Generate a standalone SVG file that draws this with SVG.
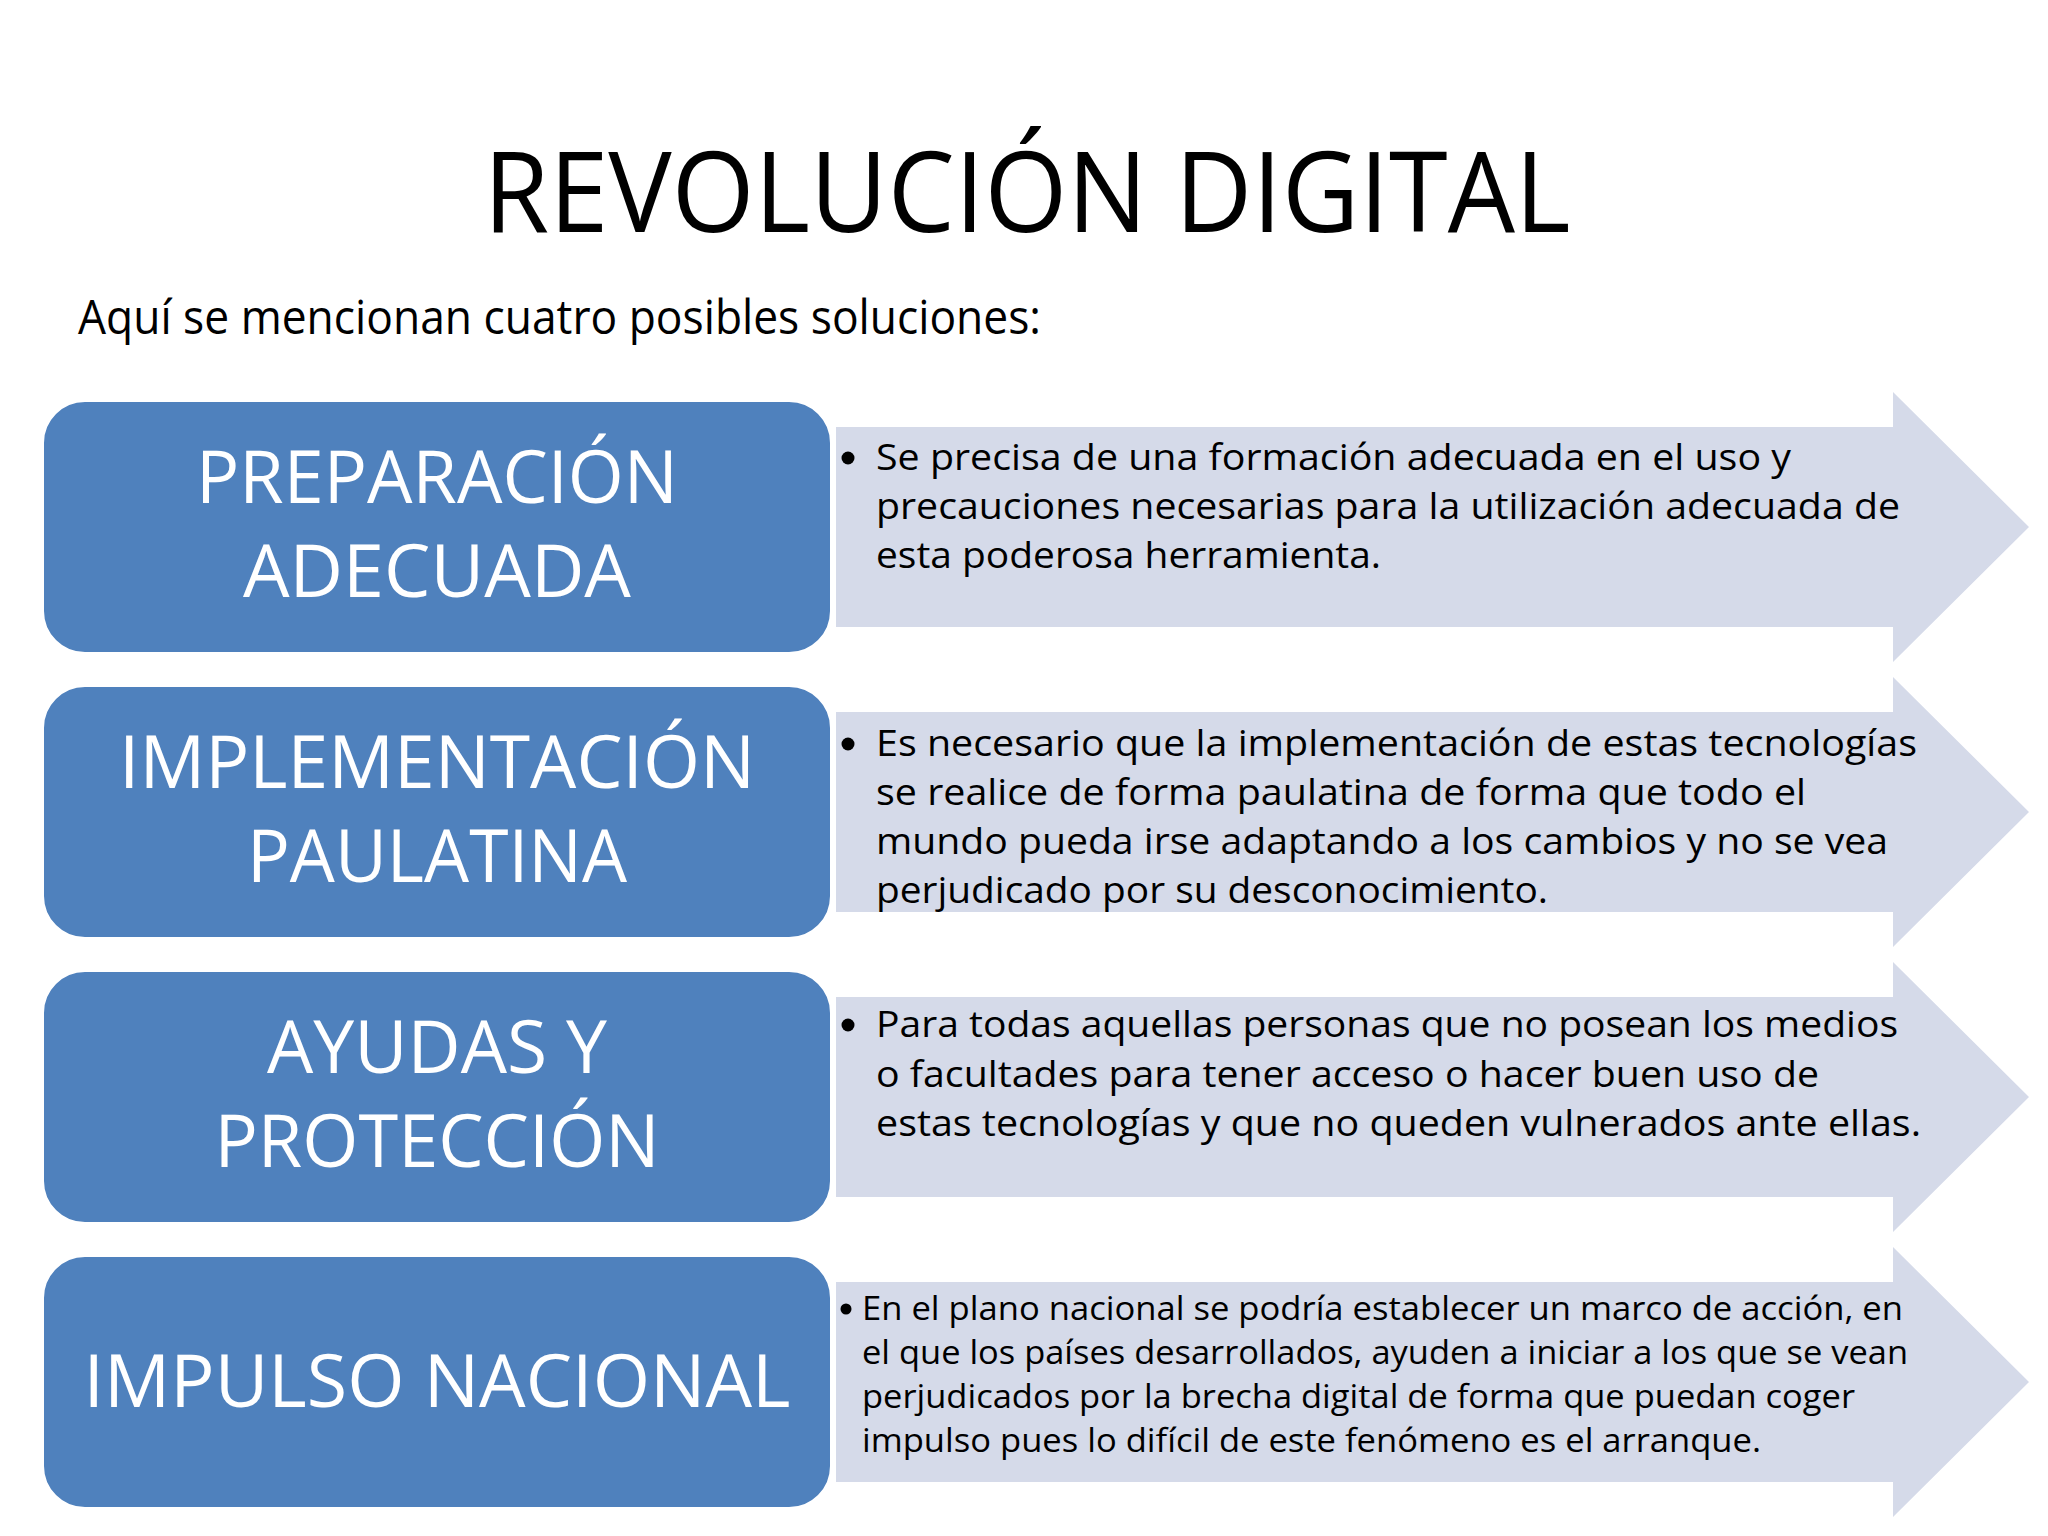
<svg xmlns="http://www.w3.org/2000/svg" width="2048" height="1536" viewBox="0 0 2048 1536">
<defs>
<style>
text{font-family:"Open Sans","Noto Sans","Liberation Sans",sans-serif;}
.title{font-size:112px;fill:#000;text-anchor:middle;}
.sub{font-size:48px;fill:#000;}
.box{fill:#4f81bd;stroke:#ffffff;stroke-width:2;}
.arrow{fill:#d5dae9;}
.bt{font-size:73px;fill:#fff;text-anchor:middle;}
.at{font-size:36px;fill:#000;}
.at4{font-size:32px;fill:#000;}
.dot{fill:#000;}
</style>
</defs>
<rect width="2048" height="1536" fill="#fff"/>
<text class="title" x="1027" y="232" textLength="1087" lengthAdjust="spacingAndGlyphs">REVOLUCIÓN DIGITAL</text>
<text class="sub" x="78" y="334" textLength="963" lengthAdjust="spacingAndGlyphs">Aquí se mencionan cuatro posibles soluciones:</text>

<g id="connectors">
<path id="arrow1" class="arrow" d="M836 427 H1893 V392 L2029 527 L1893 662 V627 H836 Z"/>
<path id="arrow2" class="arrow" d="M836 712 H1893 V677 L2029 812 L1893 947 V912 H836 Z"/>
<path id="arrow3" class="arrow" d="M836 997 H1893 V962 L2029 1097 L1893 1232 V1197 H836 Z"/>
<path id="arrow4" class="arrow" d="M836 1282 H1893 V1247 L2029 1382 L1893 1517 V1482 H836 Z"/>
</g>

<g id="node1">
<rect class="box" x="43" y="401" width="788" height="252" rx="42"/>
<text class="bt" x="437" y="503" textLength="482" lengthAdjust="spacingAndGlyphs">PREPARACIÓN</text>
<text class="bt" x="437" y="597" textLength="388" lengthAdjust="spacingAndGlyphs">ADECUADA</text>
</g>
<g id="text1">
<circle class="dot" cx="848" cy="458" r="6.5"/>
<text class="at" x="876" y="470" textLength="915" lengthAdjust="spacingAndGlyphs">Se precisa de una formación adecuada en el uso y</text>
<text class="at" x="876" y="519" textLength="1024" lengthAdjust="spacingAndGlyphs">precauciones necesarias para la utilización adecuada de</text>
<text class="at" x="876" y="568" textLength="505" lengthAdjust="spacingAndGlyphs">esta poderosa herramienta.</text>
</g>

<g id="node2">
<rect class="box" x="43" y="686" width="788" height="252" rx="42"/>
<text class="bt" x="437" y="788" textLength="636" lengthAdjust="spacingAndGlyphs">IMPLEMENTACIÓN</text>
<text class="bt" x="437" y="882" textLength="380" lengthAdjust="spacingAndGlyphs">PAULATINA</text>
</g>
<g id="text2">
<circle class="dot" cx="848" cy="744" r="6.5"/>
<text class="at" x="876" y="756" textLength="1041" lengthAdjust="spacingAndGlyphs">Es necesario que la implementación de estas tecnologías</text>
<text class="at" x="876" y="805" textLength="930" lengthAdjust="spacingAndGlyphs">se realice de forma paulatina de forma que todo el</text>
<text class="at" x="876" y="854" textLength="1012" lengthAdjust="spacingAndGlyphs">mundo pueda irse adaptando a los cambios y no se vea</text>
<text class="at" x="876" y="903" textLength="672" lengthAdjust="spacingAndGlyphs">perjudicado por su desconocimiento.</text>
</g>

<g id="node3">
<rect class="box" x="43" y="971" width="788" height="252" rx="42"/>
<text class="bt" x="437" y="1073" textLength="340" lengthAdjust="spacingAndGlyphs">AYUDAS Y</text>
<text class="bt" x="437" y="1167" textLength="445" lengthAdjust="spacingAndGlyphs">PROTECCIÓN</text>
</g>
<g id="text3">
<circle class="dot" cx="848" cy="1025" r="6.5"/>
<text class="at" x="876" y="1037" textLength="1022" lengthAdjust="spacingAndGlyphs">Para todas aquellas personas que no posean los medios</text>
<text class="at" x="876" y="1087" textLength="943" lengthAdjust="spacingAndGlyphs">o facultades para tener acceso o hacer buen uso de</text>
<text class="at" x="876" y="1136" textLength="1045" lengthAdjust="spacingAndGlyphs">estas tecnologías y que no queden vulnerados ante ellas.</text>
</g>

<g id="node4">
<rect class="box" x="43" y="1256" width="788" height="252" rx="42"/>
<text class="bt" x="437" y="1407" textLength="707" lengthAdjust="spacingAndGlyphs">IMPULSO NACIONAL</text>
</g>
<g id="text4">
<circle class="dot" cx="846" cy="1309" r="5.5"/>
<text class="at4" x="862" y="1320" textLength="1041" lengthAdjust="spacingAndGlyphs">En el plano nacional se podría establecer un marco de acción, en</text>
<text class="at4" x="862" y="1364" textLength="1046" lengthAdjust="spacingAndGlyphs">el que los países desarrollados, ayuden a iniciar a los que se vean</text>
<text class="at4" x="862" y="1408" textLength="993" lengthAdjust="spacingAndGlyphs">perjudicados por la brecha digital de forma que puedan coger</text>
<text class="at4" x="862" y="1452" textLength="899" lengthAdjust="spacingAndGlyphs">impulso pues lo difícil de este fenómeno es el arranque.</text>
</g>
</svg>
